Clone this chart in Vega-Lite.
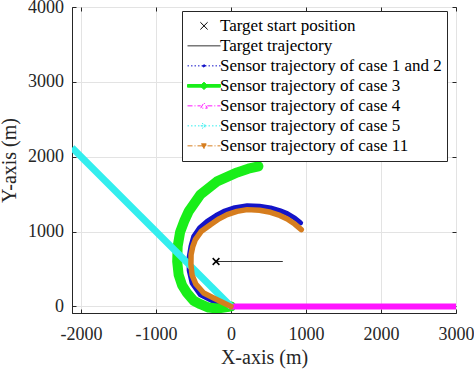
{
  "$schema": "https://vega.github.io/schema/vega-lite/v6.json",
  "width": 384,
  "height": 306,
  "autosize": {"type": "none"},
  "padding": {"left": 72, "top": 7, "right": 18, "bottom": 56},
  "background": "white",
  "config": {
    "view": {"stroke": "#262626", "strokeWidth": 1},
    "font": "Liberation Serif",
    "axis": {
      "labelFont": "Liberation Serif",
      "labelFontSize": 18,
      "labelColor": "#262626",
      "titleFont": "Liberation Serif",
      "titleFontSize": 20,
      "titleFontWeight": "normal",
      "titleColor": "#262626",
      "gridColor": "#e3e3e3",
      "gridWidth": 1,
      "domainColor": "#262626",
      "tickColor": "#262626",
      "labelFlush": false,
      "labelOverlap": false
    },
    "legend": {
      "title": null,
      "orient": "none",
      "legendX": 110,
      "legendY": 4,
      "labelFont": "Liberation Serif",
      "labelFontSize": 17,
      "labelColor": "#000000",
      "labelLimit": 400,
      "labelOffset": -1,
      "strokeColor": "#262626",
      "fillColor": "white",
      "padding": 5,
      "rowPadding": 0,
      "symbolSize": 1089,
      "symbolStrokeWidth": 1,
      "clipHeight": 19.7
    }
  },
  "data": {
    "values": [
      {"series": "Target start position", "i": 0, "x": -200, "y": 600},
      {"series": "Target trajectory", "i": 0, "x": -200, "y": 600},
      {"series": "Target trajectory", "i": 1, "x": 690, "y": 600},
      {"series": "Sensor trajectory of case 1 and 2", "i": 0, "x": 0, "y": 0},
      {"series": "Sensor trajectory of case 1 and 2", "i": 1, "x": -231, "y": 67},
      {"series": "Sensor trajectory of case 1 and 2", "i": 2, "x": -409, "y": 156},
      {"series": "Sensor trajectory of case 1 and 2", "i": 3, "x": -520, "y": 313},
      {"series": "Sensor trajectory of case 1 and 2", "i": 4, "x": -558, "y": 480},
      {"series": "Sensor trajectory of case 1 and 2", "i": 5, "x": -560, "y": 650},
      {"series": "Sensor trajectory of case 1 and 2", "i": 6, "x": -535, "y": 800},
      {"series": "Sensor trajectory of case 1 and 2", "i": 7, "x": -498, "y": 936},
      {"series": "Sensor trajectory of case 1 and 2", "i": 8, "x": -420, "y": 1050},
      {"series": "Sensor trajectory of case 1 and 2", "i": 9, "x": -320, "y": 1136},
      {"series": "Sensor trajectory of case 1 and 2", "i": 10, "x": -200, "y": 1215},
      {"series": "Sensor trajectory of case 1 and 2", "i": 11, "x": -98, "y": 1270},
      {"series": "Sensor trajectory of case 1 and 2", "i": 12, "x": 50, "y": 1320},
      {"series": "Sensor trajectory of case 1 and 2", "i": 13, "x": 215, "y": 1346},
      {"series": "Sensor trajectory of case 1 and 2", "i": 14, "x": 380, "y": 1338},
      {"series": "Sensor trajectory of case 1 and 2", "i": 15, "x": 527, "y": 1315},
      {"series": "Sensor trajectory of case 1 and 2", "i": 16, "x": 650, "y": 1280},
      {"series": "Sensor trajectory of case 1 and 2", "i": 17, "x": 750, "y": 1239},
      {"series": "Sensor trajectory of case 1 and 2", "i": 18, "x": 850, "y": 1180},
      {"series": "Sensor trajectory of case 1 and 2", "i": 19, "x": 928, "y": 1115},
      {"series": "Sensor trajectory of case 3", "i": 0, "x": 0, "y": 0},
      {"series": "Sensor trajectory of case 3", "i": 1, "x": -52, "y": -10},
      {"series": "Sensor trajectory of case 3", "i": 2, "x": -186, "y": -28},
      {"series": "Sensor trajectory of case 3", "i": 3, "x": -300, "y": -15},
      {"series": "Sensor trajectory of case 3", "i": 4, "x": -409, "y": 30},
      {"series": "Sensor trajectory of case 3", "i": 5, "x": -498, "y": 75},
      {"series": "Sensor trajectory of case 3", "i": 6, "x": -587, "y": 180},
      {"series": "Sensor trajectory of case 3", "i": 7, "x": -654, "y": 285},
      {"series": "Sensor trajectory of case 3", "i": 8, "x": -699, "y": 424},
      {"series": "Sensor trajectory of case 3", "i": 9, "x": -718, "y": 600},
      {"series": "Sensor trajectory of case 3", "i": 10, "x": -712, "y": 800},
      {"series": "Sensor trajectory of case 3", "i": 11, "x": -680, "y": 990},
      {"series": "Sensor trajectory of case 3", "i": 12, "x": -620, "y": 1150},
      {"series": "Sensor trajectory of case 3", "i": 13, "x": -565, "y": 1270},
      {"series": "Sensor trajectory of case 3", "i": 14, "x": -409, "y": 1493},
      {"series": "Sensor trajectory of case 3", "i": 15, "x": -186, "y": 1671},
      {"series": "Sensor trajectory of case 3", "i": 16, "x": 82, "y": 1790},
      {"series": "Sensor trajectory of case 3", "i": 17, "x": 230, "y": 1840},
      {"series": "Sensor trajectory of case 3", "i": 18, "x": 365, "y": 1872},
      {"series": "Sensor trajectory of case 4", "i": 0, "x": 0, "y": 0},
      {"series": "Sensor trajectory of case 4", "i": 1, "x": 3000, "y": 0},
      {"series": "Sensor trajectory of case 5", "i": 0, "x": 0, "y": 0},
      {"series": "Sensor trajectory of case 5", "i": 1, "x": -2121, "y": 2121},
      {"series": "Sensor trajectory of case 11", "i": 0, "x": 0, "y": 0},
      {"series": "Sensor trajectory of case 11", "i": 1, "x": -186, "y": 90},
      {"series": "Sensor trajectory of case 11", "i": 2, "x": -365, "y": 179},
      {"series": "Sensor trajectory of case 11", "i": 3, "x": -470, "y": 300},
      {"series": "Sensor trajectory of case 11", "i": 4, "x": -520, "y": 420},
      {"series": "Sensor trajectory of case 11", "i": 5, "x": -535, "y": 560},
      {"series": "Sensor trajectory of case 11", "i": 6, "x": -533, "y": 691},
      {"series": "Sensor trajectory of case 11", "i": 7, "x": -510, "y": 800},
      {"series": "Sensor trajectory of case 11", "i": 8, "x": -476, "y": 892},
      {"series": "Sensor trajectory of case 11", "i": 9, "x": -400, "y": 1000},
      {"series": "Sensor trajectory of case 11", "i": 10, "x": -275, "y": 1092},
      {"series": "Sensor trajectory of case 11", "i": 11, "x": -160, "y": 1170},
      {"series": "Sensor trajectory of case 11", "i": 12, "x": -52, "y": 1226},
      {"series": "Sensor trajectory of case 11", "i": 13, "x": 80, "y": 1270},
      {"series": "Sensor trajectory of case 11", "i": 14, "x": 215, "y": 1293},
      {"series": "Sensor trajectory of case 11", "i": 15, "x": 380, "y": 1285},
      {"series": "Sensor trajectory of case 11", "i": 16, "x": 527, "y": 1257},
      {"series": "Sensor trajectory of case 11", "i": 17, "x": 650, "y": 1215},
      {"series": "Sensor trajectory of case 11", "i": 18, "x": 750, "y": 1168},
      {"series": "Sensor trajectory of case 11", "i": 19, "x": 850, "y": 1100},
      {"series": "Sensor trajectory of case 11", "i": 20, "x": 937, "y": 1025}
    ]
  },
  "layer": [
    {
      "encoding": {
        "x": {
          "field": "x", "type": "quantitative",
          "scale": {"domain": [-2121, 3000], "nice": false, "zero": false},
          "axis": {
            "orient": "bottom",
            "values": [-2000, -1000, 0, 1000, 2000, 3000],
            "labelExpr": "'' + datum.value",
            "title": "X-axis (m)",
            "titleX": 192, "titleY": 34,
            "grid": true,
            "tickSize": -4,
            "labelPadding": 16.5
          }
        },
        "y": {
          "field": "y", "type": "quantitative",
          "scale": {"domain": [-88, 4000], "nice": false, "zero": false},
          "axis": {
            "orient": "left",
            "values": [0, 1000, 2000, 3000, 4000],
            "labelExpr": "'' + datum.value",
            "title": "Y-axis (m)",
            "titleX": -53, "titleY": 153,
            "grid": true,
            "tickSize": -4,
            "labelPadding": 12.4
          }
        },
        "color": {
          "field": "series", "type": "nominal",
          "scale": {
            "domain": ["Target start position", "Target trajectory", "Sensor trajectory of case 1 and 2", "Sensor trajectory of case 3", "Sensor trajectory of case 4", "Sensor trajectory of case 5", "Sensor trajectory of case 11"],
            "range": ["#000000", "#333333", "#1414c8", "#19ee19", "#ff14ff", "#33eeee", "#d67d1e"]
          },
          "legend": {
            "symbolSize": 1089,
            "symbolStrokeWidth": 1,
            "clipHeight": 19.7,
            "padding": 5,
            "labelOffset": -1,
            "legendY": 4,
            "encode": {
              "symbols": {
                "update": {
                  "shape": {"signal": "['M-0.22,-0.22L0.22,0.22M-0.22,0.22L0.22,-0.22', 'M-1,0L1,0', 'M-1,0L1,0M-0.08,0A0.08,0.08 0 1 0 0.08,0A0.08,0.08 0 1 0 -0.08,0', 'M-1,-0.08L1,-0.08L1,0.08L-1,0.08ZM-0.24,0L0,-0.22L0.24,0L0,0.22Z', 'M-1,0L-0.2,0M0.2,0L1,0M-0.2,0.14L0,-0.2L0.2,0.14Z', 'M-1,0L1,0M-0.2,0L0.2,0M-0.1,-0.17L0.1,0.17M-0.1,0.17L0.1,-0.17', 'M-1,0L1,0M-0.17,-0.12L0.17,-0.12L0,0.16Z'][datum.index]"},
                  "size": {"value": 1089},
                  "strokeWidth": {"value": 1},
                  "strokeDash": {"signal": "[[], [], [1.5, 2], [], [5, 2, 1, 2], [1.5, 2], [5, 2, 1, 2]][datum.index]"},
                  "fill": {"signal": "datum.index === 4 ? 'white' : scale('color', datum.value)"},
                  "stroke": {"signal": "scale('color', datum.value)"},
                  "opacity": {"value": 1}
                }
              }
            }
          }
        },
        "order": {"field": "i", "type": "quantitative"}
      },
      "layer": [
        {
          "transform": [{"filter": "datum.series === 'Target trajectory'"}],
          "mark": {"type": "line", "clip": true, "strokeWidth": 1}
        },
        {
          "transform": [{"filter": "datum.series === 'Sensor trajectory of case 1 and 2'"}],
          "mark": {"type": "line", "clip": true, "strokeWidth": 5, "strokeCap": "round", "strokeJoin": "round"}
        },
        {
          "transform": [{"filter": "datum.series === 'Sensor trajectory of case 3'"}],
          "mark": {"type": "line", "clip": true, "strokeWidth": 10, "strokeCap": "round", "strokeJoin": "round"}
        },
        {
          "transform": [{"filter": "datum.series === 'Sensor trajectory of case 4'"}],
          "mark": {"type": "line", "clip": true, "strokeWidth": 6, "strokeCap": "round", "strokeJoin": "round"}
        },
        {
          "transform": [{"filter": "datum.series === 'Sensor trajectory of case 5'"}],
          "mark": {"type": "line", "clip": true, "strokeWidth": 7, "strokeCap": "butt", "strokeJoin": "round"}
        },
        {
          "transform": [{"filter": "datum.series === 'Sensor trajectory of case 11'"}],
          "mark": {"type": "line", "clip": true, "strokeWidth": 5.5, "strokeCap": "round", "strokeJoin": "round"}
        }
      ]
    },
    {
      "transform": [{"filter": "datum.series === 'Target start position'"}],
      "mark": {"type": "point", "shape": "M-1,-1L1,1M-1,1L1,-1", "filled": false, "size": 45, "strokeWidth": 1.5, "opacity": 1},
      "encoding": {
        "x": {
          "field": "x", "type": "quantitative",
          "scale": {"domain": [-2121, 3000], "nice": false, "zero": false},
          "axis": {"orient": "top", "values": [-2000, -1000, 0, 1000, 2000, 3000], "labels": false, "title": null, "grid": false, "domain": false, "tickSize": -4}
        },
        "y": {
          "field": "y", "type": "quantitative",
          "scale": {"domain": [-88, 4000], "nice": false, "zero": false},
          "axis": {"orient": "right", "values": [0, 1000, 2000, 3000, 4000], "labels": false, "title": null, "grid": false, "domain": false, "tickSize": -4}
        },
        "color": {
          "field": "series", "type": "nominal",
          "scale": {
            "domain": ["Target start position", "Target trajectory", "Sensor trajectory of case 1 and 2", "Sensor trajectory of case 3", "Sensor trajectory of case 4", "Sensor trajectory of case 5", "Sensor trajectory of case 11"],
            "range": ["#000000", "#333333", "#1414c8", "#19ee19", "#ff14ff", "#33eeee", "#d67d1e"]
          }
        }
      }
    }
  ],
  "resolve": {"axis": {"x": "independent", "y": "independent"}}
}
